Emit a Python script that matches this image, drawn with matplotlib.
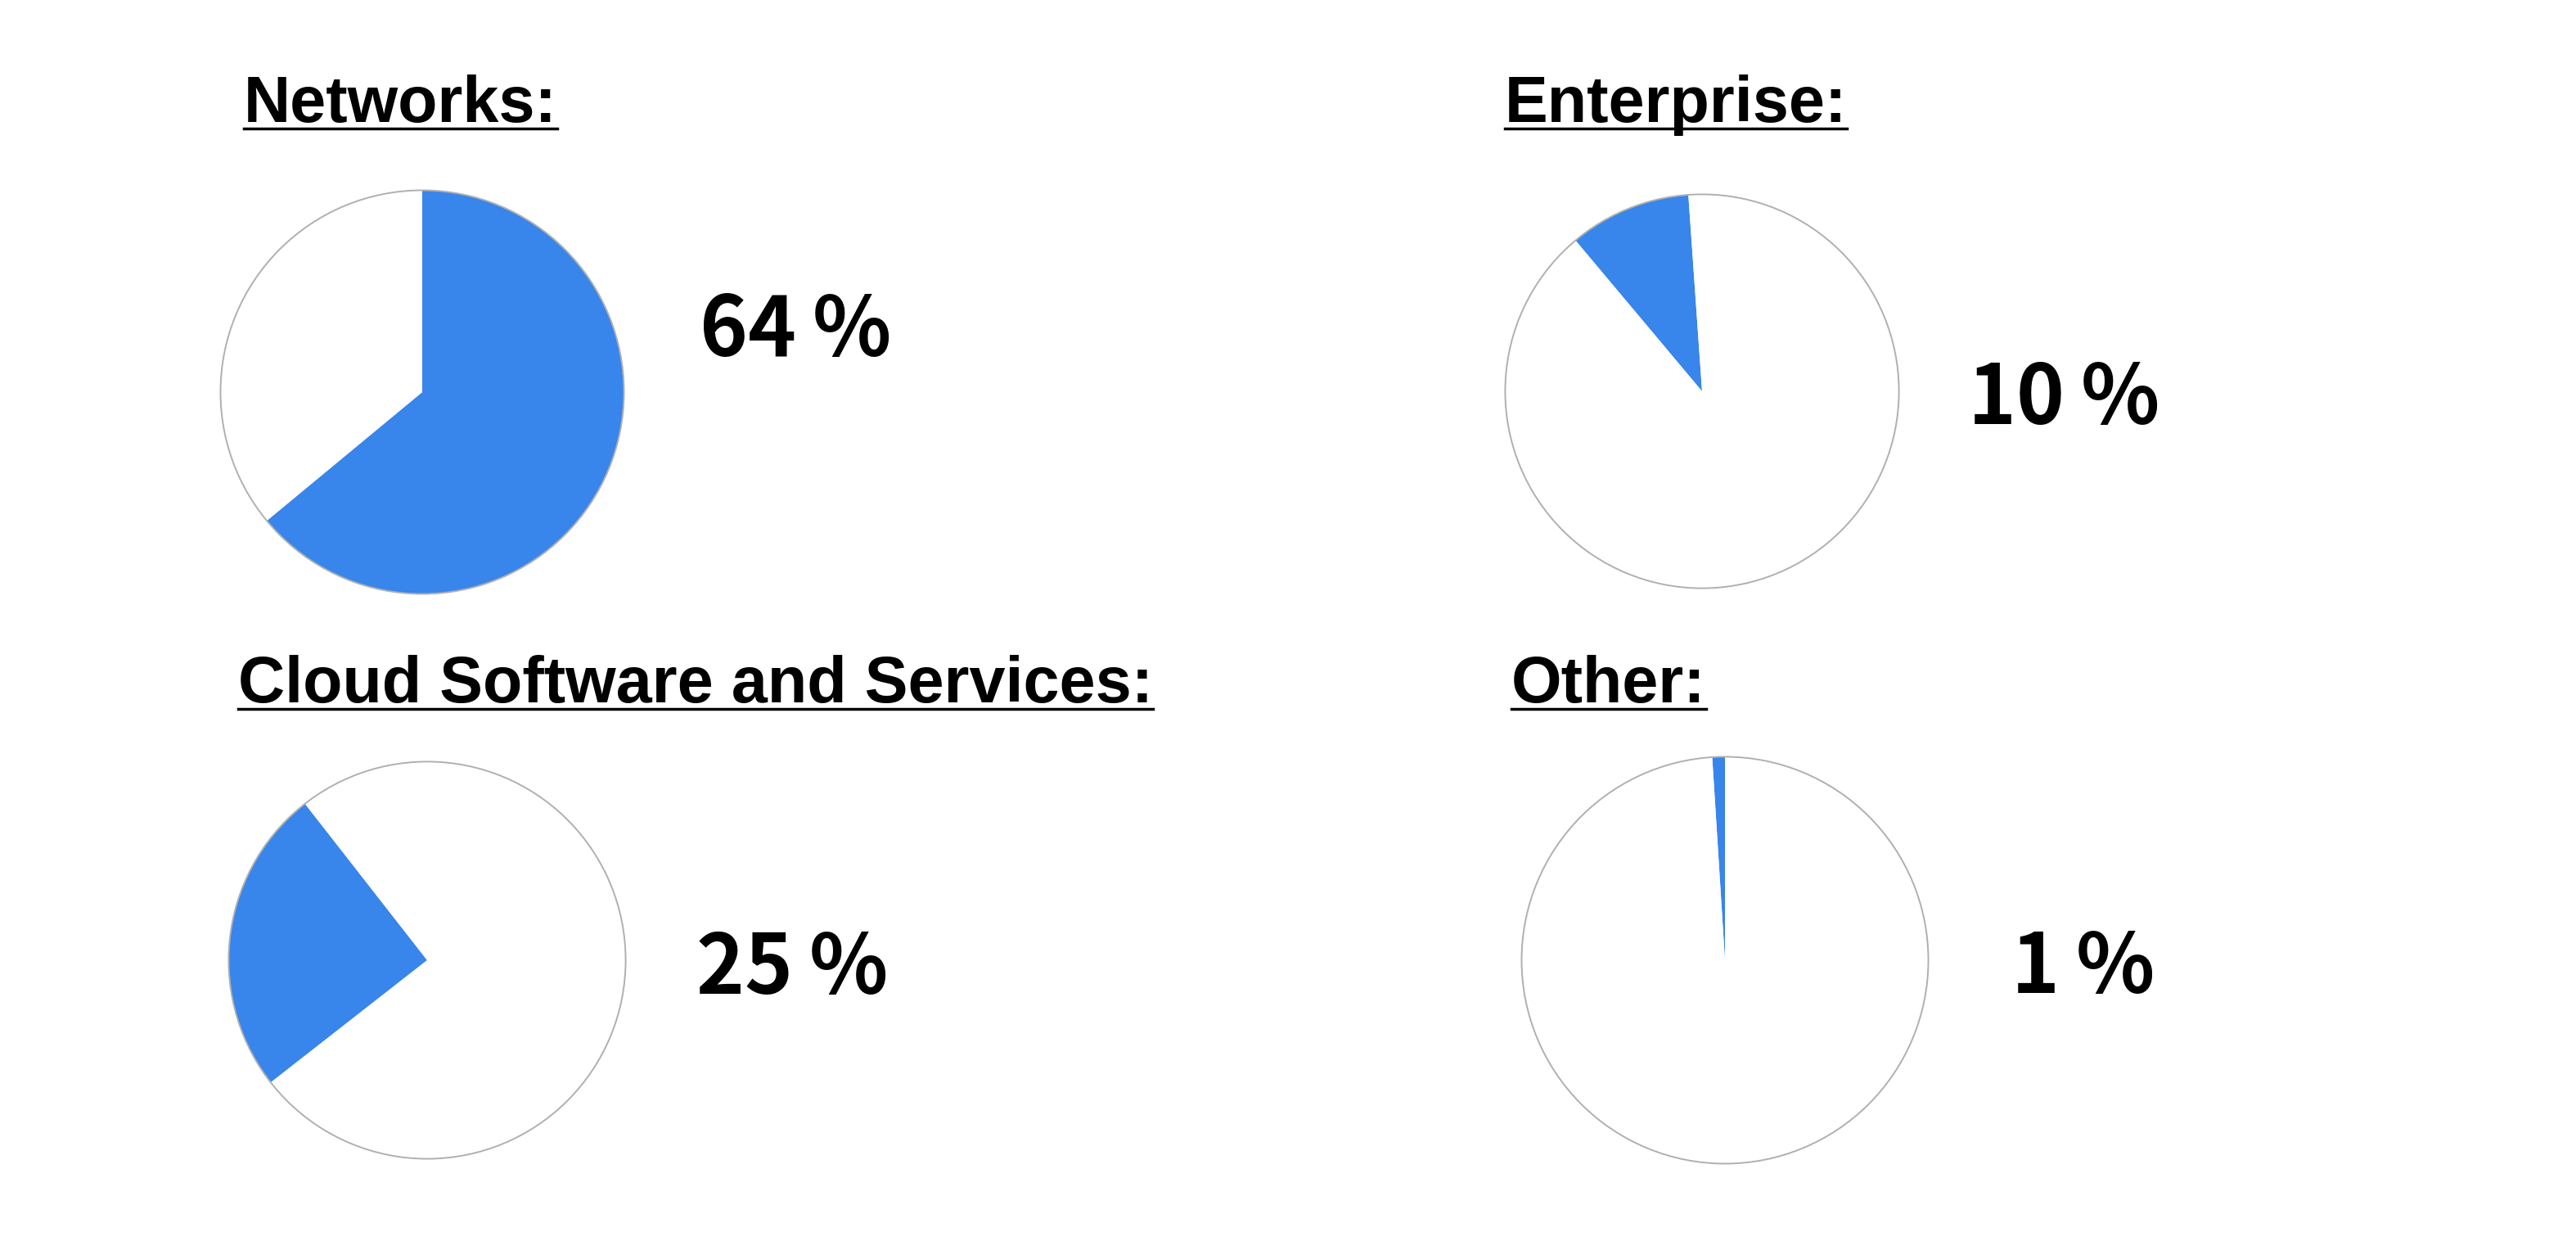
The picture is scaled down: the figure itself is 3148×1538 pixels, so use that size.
import matplotlib
matplotlib.use('Agg')
import matplotlib.pyplot as plt
from matplotlib.patches import Circle
from matplotlib.lines import Line2D
from matplotlib.transforms import Bbox

W, H, DPI = 3148, 1538, 100

titles = ['Networks:', 'Enterprise:', 'Cloud Software and Services:', 'Other:']
shares = [64, 10, 25, 1]
pct_labels = ['64\u2009%', '10\u2009%', '25\u2009%', '1\u2009%']

BLUE = '#3885eb'
EDGE = '#b0b0b0'

# layout in pixels: pie centre x, y, radius / title left, baseline / label left, baseline
pie_pos = [(516, 479, 249), (2080, 478, 243), (522, 1173, 245), (2108, 1173, 251)]
title_pos = [(298, 149), (1839, 149), (291, 858), (1847, 858)]
label_pos = [(855, 435), (2405, 518), (851, 1214), (2458, 1213)]
label_clip = [None, 2648, None, 2630]   # right-side labels are cut off in the source
# where the blue slice begins, degrees clockwise from 12 o'clock
slice_start = [0, -40, 232, -3.6]

fig = plt.figure(figsize=(W / DPI, H / DPI), dpi=DPI)
fig.patch.set_facecolor('white')

title_font = ['Liberation Sans Narrow', 'Liberation Sans', 'DejaVu Sans']
num_font = ['Noto Sans CJK JP', 'DejaVu Sans']

title_objs = []
for i in range(4):
    cx, cy, r = pie_pos[i]
    ax = fig.add_axes([(cx - r) / W, 1 - (cy + r) / H, 2 * r / W, 2 * r / H])
    ax.pie([shares[i], 100 - shares[i]], colors=[BLUE, 'white'],
           startangle=90 - slice_start[i], counterclock=False, radius=1,
           wedgeprops=dict(linewidth=0))
    ax.add_patch(Circle((0, 0), 1, fill=False, ec=EDGE, lw=1.4))
    ax.set_xlim(-1.01, 1.01)
    ax.set_ylim(-1.01, 1.01)
    ax.set_aspect('auto')
    ax.axis('off')

    tx, ty = title_pos[i]
    t = fig.text(tx / W, 1 - ty / H, titles[i], fontsize=57, fontweight='bold',
                 family=title_font, va='baseline', ha='left')
    title_objs.append(t)

    lx, ly = label_pos[i]
    lt = fig.text(lx / W, 1 - ly / H, pct_labels[i], fontsize=72, fontweight='bold',
                  family=num_font, va='baseline', ha='left')
    if label_clip[i] is not None:
        lt.set_clip_box(Bbox.from_extents(0, 0, label_clip[i], H))
        lt.set_clip_on(True)

# underline the titles
fig.canvas.draw()
for i, t in enumerate(title_objs):
    bb = t.get_window_extent()
    y = (H - title_pos[i][1] - 8) / H
    fig.add_artist(Line2D([bb.x0 / W, bb.x1 / W], [y, y], color='black',
                          lw=2.5, transform=fig.transFigure))

fig.savefig('out.png', dpi=DPI, facecolor='white')
